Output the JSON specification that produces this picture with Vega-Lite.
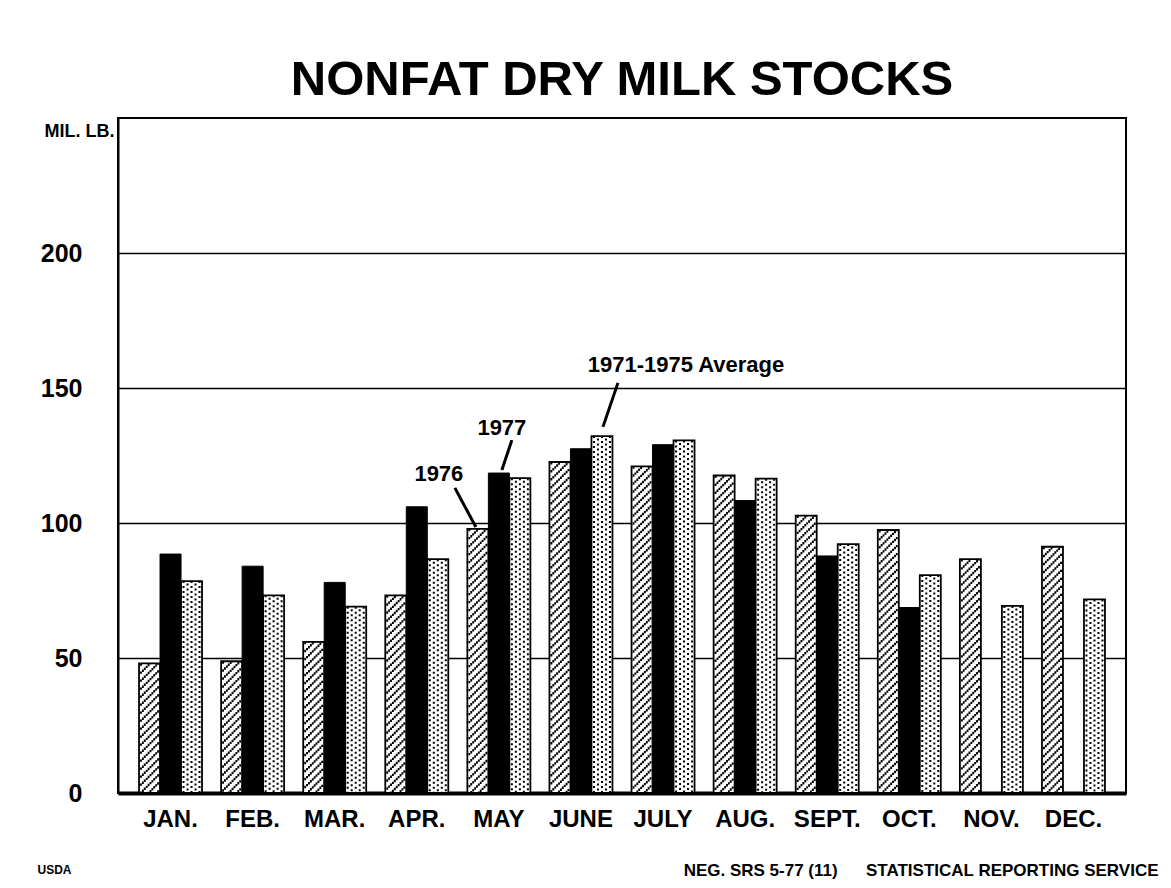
{
  "$schema": "https://vega.github.io/schema/vega-lite/v6.json",
  "width": 1008,
  "height": 675,
  "autosize": "none",
  "padding": {"left": 118, "top": 118, "right": 45, "bottom": 95},
  "background": "white",
  "title": {
    "text": "NONFAT DRY MILK STOCKS",
    "font": "Liberation Sans",
    "fontSize": 49,
    "fontWeight": "bold",
    "color": "black",
    "anchor": "middle",
    "baseline": "alphabetic",
    "offset": -26
  },
  "config": {
    "view": {"stroke": "black", "strokeWidth": 2},
    "font": "Liberation Sans"
  },
  "data": {
    "values": [
      {"month": "JAN.", "series": "1976", "value": 48},
      {"month": "JAN.", "series": "1977", "value": 88.5},
      {"month": "JAN.", "series": "1971-1975 Average", "value": 78.5},
      {"month": "FEB.", "series": "1976", "value": 48.8},
      {"month": "FEB.", "series": "1977", "value": 84},
      {"month": "FEB.", "series": "1971-1975 Average", "value": 73.2},
      {"month": "MAR.", "series": "1976", "value": 56},
      {"month": "MAR.", "series": "1977", "value": 78},
      {"month": "MAR.", "series": "1971-1975 Average", "value": 69},
      {"month": "APR.", "series": "1976", "value": 73.2},
      {"month": "APR.", "series": "1977", "value": 106},
      {"month": "APR.", "series": "1971-1975 Average", "value": 86.6},
      {"month": "MAY", "series": "1976", "value": 97.8},
      {"month": "MAY", "series": "1977", "value": 118.5},
      {"month": "MAY", "series": "1971-1975 Average", "value": 116.6},
      {"month": "JUNE", "series": "1976", "value": 122.6},
      {"month": "JUNE", "series": "1977", "value": 127.5},
      {"month": "JUNE", "series": "1971-1975 Average", "value": 132.2},
      {"month": "JULY", "series": "1976", "value": 121},
      {"month": "JULY", "series": "1977", "value": 129},
      {"month": "JULY", "series": "1971-1975 Average", "value": 130.6},
      {"month": "AUG.", "series": "1976", "value": 117.6},
      {"month": "AUG.", "series": "1977", "value": 108.3},
      {"month": "AUG.", "series": "1971-1975 Average", "value": 116.4},
      {"month": "SEPT.", "series": "1976", "value": 102.7},
      {"month": "SEPT.", "series": "1977", "value": 87.8},
      {"month": "SEPT.", "series": "1971-1975 Average", "value": 92.2},
      {"month": "OCT.", "series": "1976", "value": 97.4},
      {"month": "OCT.", "series": "1977", "value": 68.7},
      {"month": "OCT.", "series": "1971-1975 Average", "value": 80.7},
      {"month": "NOV.", "series": "1976", "value": 86.6},
      {"month": "NOV.", "series": "1971-1975 Average", "value": 69.3},
      {"month": "DEC.", "series": "1976", "value": 91.2},
      {"month": "DEC.", "series": "1971-1975 Average", "value": 71.7}
    ]
  },
  "encoding": {
    "x": {
      "field": "month",
      "type": "nominal",
      "sort": ["JAN.", "FEB.", "MAR.", "APR.", "MAY", "JUNE", "JULY", "AUG.", "SEPT.", "OCT.", "NOV.", "DEC."],
      "scale": {"domain": ["JAN.", "FEB.", "MAR.", "APR.", "MAY", "JUNE", "JULY", "AUG.", "SEPT.", "OCT.", "NOV.", "DEC."], "paddingInner": 0, "paddingOuter": 0.14},
      "axis": {
        "title": "NEG. SRS 5-77 (11)\u00a0\u00a0\u00a0\u00a0\u00a0\u00a0STATISTICAL REPORTING SERVICE",
        "titleFont": "Liberation Sans",
        "titleFontSize": 17,
        "titleFontWeight": "bold",
        "titleColor": "black",
        "titleAnchor": "end",
        "titleAlign": "right",
        "titleBaseline": "middle",
        "titleX": 1040,
        "titleY": 77,
        "labelAngle": 0,
        "labelFont": "Liberation Sans",
        "labelFontSize": 24,
        "labelFontWeight": "bold",
        "labelColor": "black",
        "labelPadding": 14,
        "ticks": false,
        "domainColor": "black",
        "domainWidth": 4,
        "grid": false
      }
    },
    "y": {
      "field": "value",
      "type": "quantitative",
      "scale": {"domain": [0, 250], "nice": false},
      "axis": {
        "title": "MIL. LB.",
        "titleFont": "Liberation Sans",
        "titleFontSize": 18,
        "titleFontWeight": "bold",
        "titleColor": "black",
        "titleAngle": 0,
        "titleAlign": "center",
        "titleBaseline": "middle",
        "titleX": -39,
        "titleY": 13,
        "values": [0, 50, 100, 150, 200],
        "labelFont": "Liberation Sans",
        "labelFontSize": 25,
        "labelFontWeight": "bold",
        "labelColor": "black",
        "labelPadding": 36,
        "ticks": false,
        "domainColor": "black",
        "domainWidth": 2,
        "grid": true,
        "gridColor": "black",
        "gridWidth": 1.5,
        "gridOpacity": 1
      }
    }
  },
  "layer": [
    {
      "transform": [{"filter": "datum.series == '1976'"}],
      "mark": {"type": "bar", "width": 21, "xOffset": -21, "fill": "white", "stroke": "black", "strokeWidth": 1.8}
    },
    {
      "transform": [{"filter": "datum.series == '1977'"}],
      "mark": {"type": "bar", "width": 21, "xOffset": 0, "fill": "black", "stroke": "black", "strokeWidth": 1}
    },
    {
      "transform": [{"filter": "datum.series == '1971-1975 Average'"}],
      "mark": {"type": "bar", "width": 21, "xOffset": 21, "fill": "white", "stroke": "black", "strokeWidth": 1.8}
    },
    {"transform": [{"filter": "datum.series == '1976'"}], "mark": {"type": "rule", "color": "black", "strokeWidth": 1.9, "strokeDash": [2.4, 5.6], "strokeDashOffset": 0, "xOffset": -29.55}, "encoding": {"y2": {"datum": 0}}},
    {"transform": [{"filter": "datum.series == '1976'"}], "mark": {"type": "rule", "color": "black", "strokeWidth": 1.9, "strokeDash": [2.4, 5.6], "strokeDashOffset": 1.9, "xOffset": -27.65}, "encoding": {"y2": {"datum": 0}}},
    {"transform": [{"filter": "datum.series == '1976'"}], "mark": {"type": "rule", "color": "black", "strokeWidth": 1.9, "strokeDash": [2.4, 5.6], "strokeDashOffset": 3.8, "xOffset": -25.75}, "encoding": {"y2": {"datum": 0}}},
    {"transform": [{"filter": "datum.series == '1976'"}], "mark": {"type": "rule", "color": "black", "strokeWidth": 1.9, "strokeDash": [2.4, 5.6], "strokeDashOffset": 5.7, "xOffset": -23.85}, "encoding": {"y2": {"datum": 0}}},
    {"transform": [{"filter": "datum.series == '1976'"}], "mark": {"type": "rule", "color": "black", "strokeWidth": 1.9, "strokeDash": [2.4, 5.6], "strokeDashOffset": 7.6, "xOffset": -21.95}, "encoding": {"y2": {"datum": 0}}},
    {"transform": [{"filter": "datum.series == '1976'"}], "mark": {"type": "rule", "color": "black", "strokeWidth": 1.9, "strokeDash": [2.4, 5.6], "strokeDashOffset": 9.5, "xOffset": -20.05}, "encoding": {"y2": {"datum": 0}}},
    {"transform": [{"filter": "datum.series == '1976'"}], "mark": {"type": "rule", "color": "black", "strokeWidth": 1.9, "strokeDash": [2.4, 5.6], "strokeDashOffset": 11.4, "xOffset": -18.15}, "encoding": {"y2": {"datum": 0}}},
    {"transform": [{"filter": "datum.series == '1976'"}], "mark": {"type": "rule", "color": "black", "strokeWidth": 1.9, "strokeDash": [2.4, 5.6], "strokeDashOffset": 13.3, "xOffset": -16.25}, "encoding": {"y2": {"datum": 0}}},
    {"transform": [{"filter": "datum.series == '1976'"}], "mark": {"type": "rule", "color": "black", "strokeWidth": 1.9, "strokeDash": [2.4, 5.6], "strokeDashOffset": 15.2, "xOffset": -14.35}, "encoding": {"y2": {"datum": 0}}},
    {"transform": [{"filter": "datum.series == '1976'"}], "mark": {"type": "rule", "color": "black", "strokeWidth": 1.9, "strokeDash": [2.4, 5.6], "strokeDashOffset": 17.1, "xOffset": -12.45}, "encoding": {"y2": {"datum": 0}}},
    {"transform": [{"filter": "datum.series == '1971-1975 Average'"}], "mark": {"type": "rule", "color": "black", "strokeWidth": 2, "strokeDash": [2, 3], "strokeDashOffset": 0, "xOffset": 13}, "encoding": {"y2": {"datum": 0}}},
    {"transform": [{"filter": "datum.series == '1971-1975 Average'"}], "mark": {"type": "rule", "color": "black", "strokeWidth": 2, "strokeDash": [2, 3], "strokeDashOffset": 2.5, "xOffset": 17}, "encoding": {"y2": {"datum": 0}}},
    {"transform": [{"filter": "datum.series == '1971-1975 Average'"}], "mark": {"type": "rule", "color": "black", "strokeWidth": 2, "strokeDash": [2, 3], "strokeDashOffset": 0, "xOffset": 21}, "encoding": {"y2": {"datum": 0}}},
    {"transform": [{"filter": "datum.series == '1971-1975 Average'"}], "mark": {"type": "rule", "color": "black", "strokeWidth": 2, "strokeDash": [2, 3], "strokeDashOffset": 2.5, "xOffset": 25}, "encoding": {"y2": {"datum": 0}}},
    {"transform": [{"filter": "datum.series == '1971-1975 Average'"}], "mark": {"type": "rule", "color": "black", "strokeWidth": 2, "strokeDash": [2, 3], "strokeDashOffset": 0, "xOffset": 29}, "encoding": {"y2": {"datum": 0}}},
    {
      "data": {"values": [{"month": "MAY", "value": 118.1, "label": "1976"}]},
      "mark": {"type": "text", "font": "Liberation Sans", "fontSize": 22, "fontWeight": "bold", "color": "black", "dx": -60, "align": "center", "baseline": "middle"},
      "encoding": {"text": {"field": "label"}}
    },
    {
      "data": {"values": [{"month": "MAY", "value": 135.2, "label": "1977"}]},
      "mark": {"type": "text", "font": "Liberation Sans", "fontSize": 22, "fontWeight": "bold", "color": "black", "dx": 3, "align": "center", "baseline": "middle"},
      "encoding": {"text": {"field": "label"}}
    },
    {
      "data": {"values": [{"month": "JUNE", "value": 158.5, "label": "1971-1975 Average"}]},
      "mark": {"type": "text", "font": "Liberation Sans", "fontSize": 22, "fontWeight": "bold", "color": "black", "dx": 105, "align": "center", "baseline": "middle"},
      "encoding": {"text": {"field": "label"}}
    },
    {
      "data": {"values": [{"month": "MAY", "value": 113, "end": 98.5}]},
      "mark": {"type": "rule", "color": "black", "strokeWidth": 3, "xOffset": -44, "x2Offset": -23},
      "encoding": {"x2": {"field": "month"}, "y2": {"field": "end"}}
    },
    {
      "data": {"values": [{"month": "MAY", "value": 130.7, "end": 119.6}]},
      "mark": {"type": "rule", "color": "black", "strokeWidth": 3, "xOffset": 13, "x2Offset": 3},
      "encoding": {"x2": {"field": "month"}, "y2": {"field": "end"}}
    },
    {
      "data": {"values": [{"month": "JUNE", "value": 151.9, "end": 135.6}]},
      "mark": {"type": "rule", "color": "black", "strokeWidth": 3, "xOffset": 37, "x2Offset": 22},
      "encoding": {"x2": {"field": "month"}, "y2": {"field": "end"}}
    },
    {
      "data": {"values": [{"month": "JAN.", "value": 0, "label": "USDA"}]},
      "mark": {"type": "text", "font": "Liberation Sans", "fontSize": 12, "fontWeight": "bold", "color": "black", "dx": -116, "dy": 77, "align": "center", "baseline": "middle", "clip": false},
      "encoding": {"text": {"field": "label"}}
    }
  ]
}
